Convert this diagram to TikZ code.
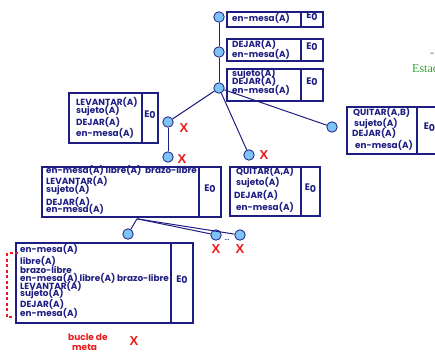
\documentclass[tikz,border=0pt]{standalone}
\usepackage{fontspec}
\usetikzlibrary{fit}
\newfontfamily\boxfont{Poppins}
\newfontfamily\markfont{Liberation Sans}
\newfontfamily\titlefont{Liberation Serif}
\definecolor{navy}{RGB}{30,30,130}
\definecolor{bubble}{RGB}{125,195,245}
\definecolor{xred}{RGB}{235,25,25}
\definecolor{stategreen}{RGB}{50,160,50}
\tikzset{
  frame/.style={draw=navy, line width=1.2pt, inner sep=0pt, rectangle},
  ecell/.style={frame, text=navy, font=\boxfont\bfseries\fontsize{9.5}{9.5}\selectfont},
  link/.style={draw=navy, line width=1pt},
  bub/.style={circle, draw=navy, fill=bubble, line width=0.8pt, minimum size=10.5pt, inner sep=0pt},
  lbl/.style={text=navy, font=\boxfont\bfseries\fontsize{8.9}{9}\selectfont, inner sep=0pt, anchor=base west},
  xmark/.style={text=xred, font=\markfont\bfseries\fontsize{13}{13}\selectfont, inner sep=0pt},
  redlbl/.style={text=xred, font=\boxfont\bfseries\fontsize{9}{9}\selectfont, inner sep=0pt, anchor=base west},
  green/.style={text=stategreen, font=\titlefont\fontsize{12}{12}\selectfont, inner sep=0pt, anchor=base west},
}
\newcommand{\Ezero}{E\raisebox{-1.8pt}{0}}
\begin{document}
\begin{tikzpicture}[x=1pt,y=-1pt]
\useasboundingbox (0,0) rectangle (435,352);
\begin{scope}
\clip (0,0) rectangle (435,352);

% state boxes: a text cell and an E0 cell each
\node[frame, fit={(227,12) (301,27)}] (b1) {};
\node[ecell, fit={(301,12) (323,27)}] (b1e) {\Ezero};
\node[frame, fit={(227,39) (301,61)}] (b2) {};
\node[ecell, fit={(301,39) (323,61)}] (b2e) {\Ezero};
\node[frame, fit={(227,69) (301,101)}] (b3) {};
\node[ecell, fit={(301,69) (323,101)}] (b3e) {\Ezero};
\node[frame, fit={(69,93) (142,143)}] (bL) {};
\node[ecell, fit={(142,93) (158,143)}] (bLe) {\Ezero};
\node[frame, fit={(347,107) (417,154)}] (bR) {};
\node[ecell, fit={(417,107) (442,154)}] (bRe) {\Ezero};
\node[frame, fit={(230,167) (301,216)}] (bM) {};
\node[ecell, fit={(301,167) (320,216)}] (bMe) {\Ezero};
\node[frame, fit={(42,167) (199,217)}] (bW) {};
\node[ecell, fit={(199,167) (221,217)}] (bWe) {\Ezero};
\node[frame, fit={(16,243) (171,323)}] (bB) {};
\node[ecell, fit={(171,243) (193,323)}] (bBe) {\Ezero};

% box contents
\node[lbl] (b1-t1) at (232,21.5) {en-mesa(A)};
\foreach \yy/\txt [count=\i] in {47.5/DEJAR(A), 57.5/en-mesa(A)}
  \node[lbl] (b2-t\i) at (232,\yy) {\txt};
\foreach \yy/\txt [count=\i] in {76.5/sujeto(A), 84.5/DEJAR(A), 94/en-mesa(A)}
  \node[lbl] (b3-t\i) at (232,\yy) {\txt};
\foreach \yy/\txt [count=\i] in {106/LEVANTAR(A), 113.5/sujeto(A), 126/DEJAR(A), 137/en-mesa(A)}
  \node[lbl] (bL-t\i) at (76,\yy) {\txt};
\foreach \xx/\yy/\txt [count=\i] in {353/116/{QUITAR(A,B)}, 354/127/sujeto(A), 352/137/DEJAR(A), 355/149/en-mesa(A)}
  \node[lbl] (bR-t\i) at (\xx,\yy) {\txt};
\foreach \xx/\yy/\txt [count=\i] in {236/175/{QUITAR(A,A)}, 236/186/sujeto(A), 234/199/DEJAR(A), 236/211/en-mesa(A)}
  \node[lbl] (bM-t\i) at (\xx,\yy) {\txt};
\foreach \yy/\txt [count=\i] in {174/en-mesa(A) libre(A), 185/LEVANTAR(A), 193/sujeto(A), 205/DEJAR(A), 212/en-mesa(A)}
  \node[lbl] (bW-t\i) at (46,\yy) {\txt};
\node[lbl] (bW-t6) at (145,174) {brazo-libre};
\foreach \yy/\txt [count=\i] in {252/en-mesa(A), 264/libre(A), 273/brazo-libre, 281/en-mesa(A) libre(A), 289/LEVANTAR(A), 296/sujeto(A), 307/DEJAR(A), 316/en-mesa(A)}
  \node[lbl] (bB-t\i) at (20,\yy) {\txt};
\node[lbl] (bB-t9) at (117,281) {brazo-libre};

% search tree
\node[bub] (c1) at (219,17) {};
\node[bub] (c2) at (219,52) {};
\node[bub] (c3) at (219,88) {};
\node[bub] (cL) at (168,122) {};
\node[bub] (cL2) at (168,157) {};
\node[bub] (cM) at (249,155) {};
\node[bub] (cR) at (332,127) {};
\node[bub] (d1) at (128,234) {};
\node[bub] (d2) at (216,235) {};
\node[bub] (d3) at (240,235) {};
\coordinate (fork) at (137,218.8);

\draw[link] (c1) -- (c2);
\draw[link] (c2) -- (c3);
\draw[link] (c3) -- (cL);
\draw[link] (c3) -- (cM);
\draw[link] (c3) -- (cR);
\draw[link] (cL) -- (cL2);
\draw[link] (fork) -- (d1);
\draw[link] (fork) -- (d2);
\draw[link] (fork) -- (d3);

\node[text=navy, font=\markfont\bfseries\fontsize{6}{6}\selectfont, inner sep=0pt] (dots) at (227,240) {...};

% dead ends
\node[xmark] (x1) at (184,128) {X};
\node[xmark] (x2) at (182,159) {X};
\node[xmark] (x3) at (264,155) {X};
\node[xmark] (x4) at (216,249) {X};
\node[xmark] (x5) at (240,249) {X};
\node[xmark] (x6) at (134,341) {X};

% goal loop marker
\coordinate (q1) at (18,253);
\coordinate (q2) at (7,253);
\coordinate (q3) at (7,317);
\coordinate (q4) at (16,317);
\draw[xred, line width=1.2pt, dash pattern=on 3pt off 2.5pt] (q1) -- (q2) -- (q3) -- (q4);
\node[redlbl] (loop1) at (68,340) {bucle de};
\node[redlbl] (loop2) at (72,350) {meta};

% heading at the right margin
\node[green] (h1) at (430,57) {-};
\node[green] (h2) at (412,73) {Estado};
\end{scope}
\end{tikzpicture}
\end{document}
